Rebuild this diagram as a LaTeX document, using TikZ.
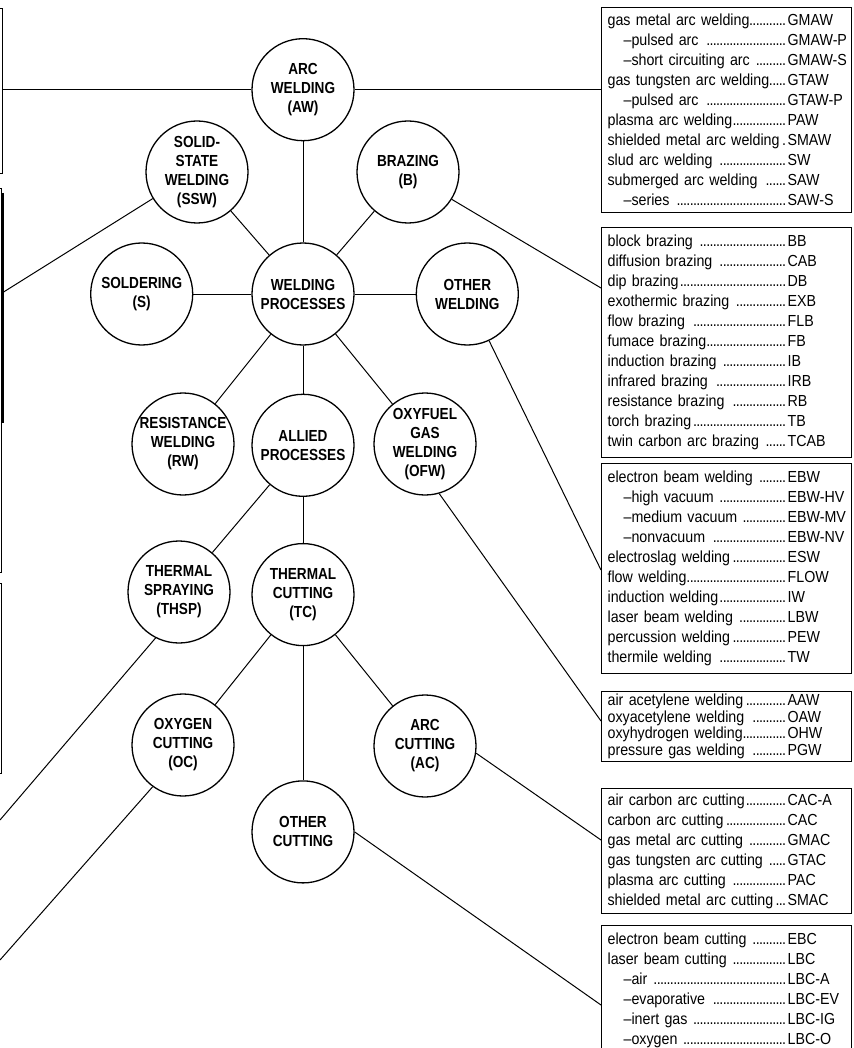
\documentclass[tikz,border=0pt]{standalone}
\usepackage{fontspec}
\setmainfont{Liberation Sans}
\newfontfamily\listfont[FakeStretch=0.89]{Liberation Sans}
\newfontfamily\circfont[FakeStretch=0.85]{Liberation Sans Bold}
\usetikzlibrary{positioning}
\newcommand{\dotlead}{\leaders\hbox to 3.3pt{\hss.\hss}\hfill}
\newcommand{\proc}[2]{\makebox[180pt][l]{#1\dotlead}\rlap{#2}}
\newcommand{\subproc}[2]{\proc{\hspace*{16pt}–#1 }{#2}}
\tikzset{
  process/.style={circle,draw,line width=1.3pt,minimum size=102pt,inner sep=0pt,align=center,
    font=\circfont\fontsize{16}{19}\selectfont},
  listbox/.style={draw,line width=1.2pt,anchor=north west,minimum width=250pt,text width=238pt,
    inner xsep=6pt,inner ysep=0pt,align=left,font=\listfont\fontsize{16}{20}\selectfont},
  edgebox/.style={draw,line width=1pt,anchor=north east,minimum width=20pt,inner sep=0pt},
  link/.style={line width=1pt}
}

\begin{document}
\begin{tikzpicture}[x=1pt,y=-1pt]
  \useasboundingbox (0,0) rectangle (853,1048);
  % main tree
  \node[process] (wp) at (303,294) {WELDING\\PROCESSES};
  \node[process,above=101pt of wp] (aw) {ARC\\WELDING\\(AW)};
  \node[process] (ssw) at (197,172) {SOLID-\\STATE\\WELDING\\(SSW)};
  \node[process] (braz) at (408,172) {BRAZING\\(B)};
  \node[process,left=58pt of wp] (sold) {SOLDERING\\(S)};
  \node[process,right=61pt of wp] (otherw) {OTHER\\WELDING};
  \node[process] (rw) at (183,444) {RESISTANCE\\WELDING\\(RW)};
  \node[process,below=48pt of wp] (allied) {ALLIED\\PROCESSES};
  \node[process] (ofw) at (425,444) {OXYFUEL\\GAS\\WELDING\\(OFW)};
  \node[process] (thsp) at (179,592) {THERMAL\\SPRAYING\\(THSP)};
  \node[process,below=46pt of allied] (tc) {THERMAL\\CUTTING\\(TC)};
  \node[process] (oc) at (183,745) {OXYGEN\\CUTTING\\(OC)};
  \node[process] (arcc) at (425,746) {ARC\\CUTTING\\(AC)};
  \node[process,below=134pt of tc] (otherc) {OTHER\\CUTTING};

  % lists on the right
  \node[listbox,minimum height=205pt] (awlist) at (601,7) {%
    \proc{gas metal arc welding}{GMAW}\\
    \subproc{pulsed arc}{GMAW-P}\\
    \subproc{short circuiting arc}{GMAW-S}\\
    \proc{gas tungsten arc welding}{GTAW}\\
    \subproc{pulsed arc}{GTAW-P}\\
    \proc{plasma arc welding}{PAW}\\
    \proc{shielded metal arc welding}{SMAW}\\
    \proc{slud arc welding }{SW}\\
    \proc{submerged arc welding }{SAW}\\
    \subproc{series}{SAW-S}};
  \node[listbox,minimum height=230pt] (blist) at (601,227) {%
    \proc{block brazing }{BB}\\
    \proc{diffusion brazing }{CAB}\\
    \proc{dip brazing}{DB}\\
    \proc{exothermic brazing }{EXB}\\
    \proc{flow brazing }{FLB}\\
    \proc{fumace brazing}{FB}\\
    \proc{induction brazing }{IB}\\
    \proc{infrared brazing }{IRB}\\
    \proc{resistance brazing }{RB}\\
    \proc{torch brazing}{TB}\\
    \proc{twin carbon arc brazing }{TCAB}};
  \node[listbox,minimum height=210pt] (owlist) at (601,463) {%
    \proc{electron beam welding }{EBW}\\
    \subproc{high vacuum}{EBW-HV}\\
    \subproc{medium vacuum}{EBW-MV}\\
    \subproc{nonvacuum}{EBW-NV}\\
    \proc{electroslag welding}{ESW}\\
    \proc{flow welding}{FLOW}\\
    \proc{induction welding}{IW}\\
    \proc{laser beam welding }{LBW}\\
    \proc{percussion welding}{PEW}\\
    \proc{thermile welding }{TW}};
  \node[listbox,minimum height=70pt,font=\listfont\fontsize{16}{16.5}\selectfont] (ofwlist) at (601,691) {%
    \proc{air acetylene welding}{AAW}\\
    \proc{oxyacetylene welding }{OAW}\\
    \proc{oxyhydrogen welding}{OHW}\\
    \proc{pressure gas welding }{PGW}};
  \node[listbox,minimum height=125pt] (aclist) at (601,788) {%
    \proc{air carbon arc cutting}{CAC-A}\\
    \proc{carbon arc cutting}{CAC}\\
    \proc{gas metal arc cutting }{GMAC}\\
    \proc{gas tungsten arc cutting }{GTAC}\\
    \proc{plasma arc cutting }{PAC}\\
    \proc{shielded metal arc cutting}{SMAC}};
  \node[listbox,minimum height=130pt] (oclist) at (601,925) {%
    \proc{electron beam cutting }{EBC}\\
    \proc{laser beam cutting }{LBC}\\
    \subproc{air}{LBC-A}\\
    \subproc{evaporative}{LBC-EV}\\
    \subproc{inert gas}{LBC-IG}\\
    \subproc{oxygen}{LBC-O}};

  % pieces of the neighbouring lists, cut by the left edge
  \node[edgebox,minimum height=165pt] (edgea) at (3,8) {};
  \node[edgebox,minimum height=384pt] (edgeb) at (2,188) {};
  \node[edgebox,minimum height=190pt] (edgec) at (2,583) {};
  \draw[line width=3pt] (edgeb.north east) ++(0,5) -- ++(0,230);
  \coordinate (thspend) at (0,820);
  \coordinate (ocend) at (0,960);

  % tree links
  \draw[link] (wp) -- (aw);
  \draw[link] (wp) -- (ssw);
  \draw[link] (wp) -- (braz);
  \draw[link] (wp) -- (sold);
  \draw[link] (wp) -- (otherw);
  \draw[link] (wp) -- (rw);
  \draw[link] (wp) -- (allied);
  \draw[link] (wp) -- (ofw);
  \draw[link] (allied) -- (thsp);
  \draw[link] (allied) -- (tc);
  \draw[link] (tc) -- (oc);
  \draw[link] (tc) -- (otherc);
  \draw[link] (tc) -- (arcc);

  % leaders to the lists
  \draw[link] (aw) -- (aw -| awlist.west);
  \draw[link] (aw) -- (aw -| edgea.east);
  \draw[link] (braz.328) -- ([yshift=-61pt]blist.north west);
  \draw[link] (otherw.295) -- ([yshift=-107pt]owlist.north west);
  \draw[link] (ofw.286) -- ([yshift=-30pt]ofwlist.north west);
  \draw[link] (arcc.352) -- ([yshift=-52pt]aclist.north west);
  \draw[link] (otherc.east) -- ([yshift=-80pt]oclist.north west);
  \draw[link] (ssw.211) -- ([yshift=-105pt]edgeb.north east);
  \draw[link] (thsp.243) -- (thspend);
  \draw[link] (oc.234) -- (ocend);
\end{tikzpicture}
\end{document}
